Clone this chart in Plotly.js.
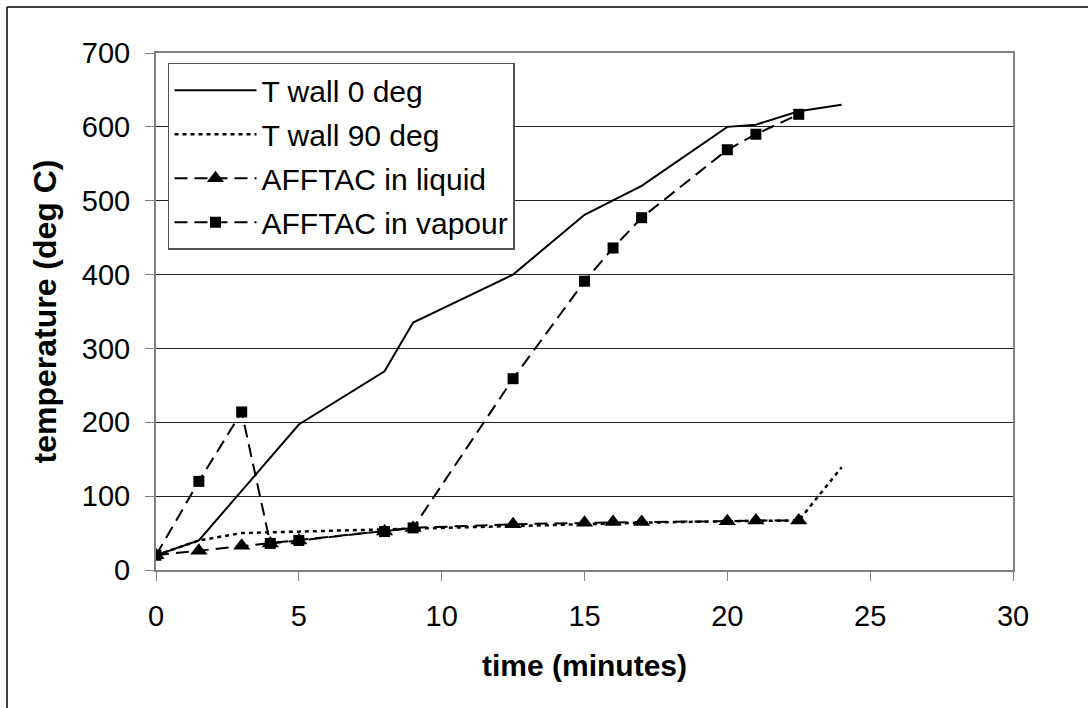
<!DOCTYPE html>
<html>
<head>
<meta charset="utf-8">
<script src="https://cdn.plot.ly/plotly-3.0.1.min.js"></script>
<style>html,body{margin:0;padding:0;background:#fff;}#chart{width:1088px;height:708px;}</style>
</head>
<body>
<div id="chart"></div>
<script>
const wall0X = [0, 1.5, 5, 8, 9, 12.5, 15, 17, 20, 21, 22.5, 24];
const wall0Y = [20, 40, 197, 269, 335, 400, 481, 520, 600, 603, 621, 630];
const wall90X = [0, 1.5, 3, 4, 5, 8, 9, 12.5, 15, 16, 17, 20, 21, 22.5, 24];
const wall90Y = [20, 40, 50, 51, 52, 55, 57, 60, 62, 63, 64, 66, 66, 67, 139];
const liquidX = [0, 1.5, 3, 4, 5, 8, 9, 12.5, 15, 16, 17, 20, 21, 22.5];
const liquidY = [20, 26, 33, 36, 40, 52, 57, 62, 64, 65, 65, 66, 67, 67];
const vapourX = [0, 1.5, 3, 4, 5, 8, 9, 12.5, 15, 16, 17, 20, 21, 22.5];
const vapourY = [20, 120, 214, 36, 40, 52, 57, 259, 391, 436, 477, 569, 590, 617];
const names = ["T wall 0 deg", "T wall 90 deg", "AFFTAC in liquid", "AFFTAC in vapour"];
const xTicks = [0, 5, 10, 15, 20, 25, 30];
const yTicks = [0, 100, 200, 300, 400, 500, 600, 700];

const FONT = "Liberation Sans, Arial, sans-serif";
const traces = [
  {x: wall0X, y: wall0Y, name: names[0], mode: "lines", legendgroup: "a", legendrank: 1,
   line: {color: "#000", width: 2}},
  {x: wall90X, y: wall90Y, name: names[1], mode: "lines", legendgroup: "b", legendrank: 2,
   line: {color: "#000", width: 2.5, dash: "4px,4px"}},
  {x: vapourX, y: vapourY, name: names[3], mode: "lines+markers", legendgroup: "d", legendrank: 4,
   line: {color: "#000", width: 2, dash: "13px,7px"},
   marker: {symbol: "square", size: 11, color: "#000"}},
  {x: liquidX, y: liquidY, name: names[2], mode: "lines+markers", legendgroup: "c", legendrank: 3,
   line: {color: "#000", width: 2, dash: "13px,7px"},
   marker: {symbol: "triangle-up", size: 15, color: "#000"}}
];

const layout = {
  width: 1088, height: 708,
  margin: {l: 156, r: 75, t: 53, b: 138},
  paper_bgcolor: "#fff", plot_bgcolor: "#fff",
  font: {family: FONT, color: "#000", size: 29},
  showlegend: true,
  legend: {
    x: 0.014, y: 0.981, xanchor: "left", yanchor: "top",
    bgcolor: "#fff", bordercolor: "#555", borderwidth: 1.5,
    font: {family: FONT, size: 30, color: "#000"},
    traceorder: "grouped", tracegroupgap: 2, itemwidth: 82
  },
  xaxis: {
    range: [0, 30], tickvals: xTicks, ticktext: xTicks.map(String),
    showgrid: false, zeroline: false,
    showline: true, linecolor: "#808080", linewidth: 2, mirror: true,
    ticks: "outside", ticklen: 9, tickcolor: "#808080", tickwidth: 1,
    ticklabelstandoff: 10,
    tickfont: {family: FONT, size: 29, color: "#000"},
    title: {text: "<b>time (minutes)</b>", font: {family: FONT, size: 30, color: "#000"}, standoff: 24}
  },
  yaxis: {
    range: [0, 700], tickvals: yTicks, ticktext: yTicks.map(String),
    showgrid: true, gridcolor: "#222", gridwidth: 1, zeroline: false,
    showline: true, linecolor: "#808080", linewidth: 2, mirror: true,
    ticks: "outside", ticklen: 9, tickcolor: "#808080", tickwidth: 1,
    ticklabelstandoff: 9,
    tickfont: {family: FONT, size: 29, color: "#000"},
    title: {text: "<b>temperature (deg C)</b>", font: {family: FONT, size: 32, color: "#000"}, standoff: 16}
  },
  shapes: [
    {type: "line", xref: "paper", yref: "paper", x0: -149/857, x1: 1.2, y0: 1 + 46/517, y1: 1 + 46/517,
     line: {color: "#000", width: 1.5}},
    {type: "line", xref: "paper", yref: "paper", x0: -149/857, x1: -149/857, y0: 1 + 46/517, y1: -0.5,
     line: {color: "#000", width: 1.5}}
  ]
};

Plotly.newPlot("chart", traces, layout, {displayModeBar: false, staticPlot: true});
</script>
</body>
</html>
